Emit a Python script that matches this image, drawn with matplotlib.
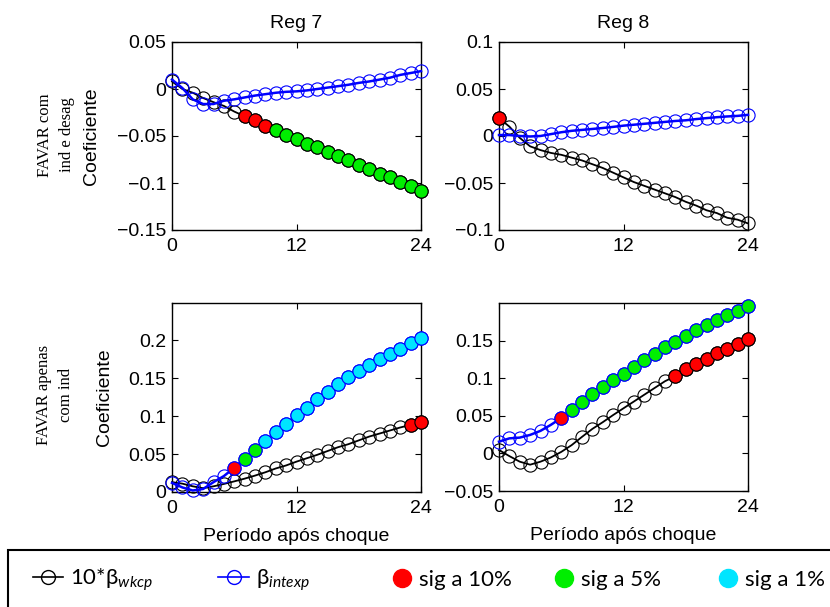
import numpy as np
import matplotlib.pyplot as plt
from matplotlib.lines import Line2D
from matplotlib.patches import Rectangle
from matplotlib.ticker import FuncFormatter

plt.rcParams['font.family'] = 'Liberation Sans'
plt.rcParams['mathtext.fontset'] = 'custom'
plt.rcParams['mathtext.rm'] = 'Lato'
plt.rcParams['mathtext.it'] = 'Lato:italic'

periods = np.arange(25)

# FAVAR com ind e desag, Reg 7
r7_top_wkcp = [0.008, 0.0, -0.004, -0.0096, -0.014, -0.018, -0.024, -0.029, -0.033,
               -0.039, -0.044, -0.0486, -0.053, -0.058, -0.062, -0.067, -0.071, -0.076,
               -0.081, -0.085, -0.090, -0.094, -0.099, -0.103, -0.108]
r7_top_wkcp_sig = [0, 0, 0, 0, 0, 0, 0, 10, 10, 10, 5, 5, 5, 5, 5, 5, 5, 5, 5, 5, 5, 5, 5, 5, 5]
r7_top_intexp = [0.010, 0.001, -0.011, -0.016, -0.016, -0.0125, -0.011, -0.009, -0.007,
                 -0.0055, -0.004, -0.003, -0.0025, -0.0015, 0.0, 0.0015, 0.003, 0.0045,
                 0.0065, 0.008, 0.010, 0.012, 0.015, 0.017, 0.019]
r7_top_intexp_sig = [0] * 25

# FAVAR com ind e desag, Reg 8
r8_top_wkcp = [0.019, 0.010, -0.002, -0.011, -0.015, -0.018, -0.020, -0.023, -0.026,
               -0.030, -0.034, -0.039, -0.044, -0.049, -0.053, -0.057, -0.061, -0.065,
               -0.070, -0.074, -0.079, -0.082, -0.087, -0.089, -0.093]
r8_top_wkcp_sig = [10] + [0] * 24
r8_top_intexp = [0.001, 0.001, 0.0, -0.0005, 0.0, 0.002, 0.004, 0.0055, 0.0065, 0.0075,
                 0.0085, 0.0097, 0.011, 0.012, 0.013, 0.014, 0.015, 0.016, 0.0167, 0.018,
                 0.019, 0.020, 0.0208, 0.0214, 0.0225]
r8_top_intexp_sig = [0] * 25

# FAVAR apenas com ind, Reg 7
r7_bot_wkcp = [0.013, 0.011, 0.0075, 0.005, 0.0075, 0.0106, 0.014, 0.0176, 0.0216, 0.026,
               0.031, 0.035, 0.040, 0.0445, 0.049, 0.054, 0.059, 0.063, 0.068, 0.073,
               0.077, 0.081, 0.085, 0.0885, 0.0925]
r7_bot_wkcp_sig = [0] * 23 + [10, 10]
r7_bot_intexp = [0.012, 0.006, 0.002, 0.004, 0.013, 0.021, 0.032, 0.044, 0.055, 0.067,
                 0.079, 0.090, 0.101, 0.111, 0.122, 0.132, 0.142, 0.151, 0.159, 0.167,
                 0.175, 0.182, 0.189, 0.196, 0.203]
r7_bot_intexp_sig = [0] * 6 + [10, 5, 5] + [1] * 16

# FAVAR apenas com ind, Reg 8
r8_bot_wkcp = [0.0045, -0.0036, -0.011, -0.015, -0.011, -0.0054, 0.002, 0.011, 0.022,
               0.0326, 0.0415, 0.051, 0.060, 0.069, 0.078, 0.087, 0.096, 0.1027, 0.1116,
               0.119, 0.126, 0.133, 0.139, 0.145, 0.152]
r8_bot_wkcp_sig = [0] * 17 + [10] * 8
r8_bot_intexp = [0.0156, 0.020, 0.021, 0.0246, 0.030, 0.038, 0.047, 0.058, 0.069, 0.079,
                 0.088, 0.097, 0.106, 0.115, 0.124, 0.132, 0.141, 0.148, 0.156, 0.164,
                 0.171, 0.178, 0.184, 0.190, 0.1955]
r8_bot_intexp_sig = [0] * 6 + [10] + [5] * 18

sig_colors = {10: '#ff0000', 5: '#00ee00', 1: '#00e5ff'}
sig_labels = {10: 'sig a 10%', 5: 'sig a 5%', 1: 'sig a 1%'}

panels = [
    (r7_top_wkcp, r7_top_wkcp_sig, r7_top_intexp, r7_top_intexp_sig,
     (-0.15, 0.05), [-0.15, -0.1, -0.05, 0, 0.05]),
    (r8_top_wkcp, r8_top_wkcp_sig, r8_top_intexp, r8_top_intexp_sig,
     (-0.1, 0.1), [-0.1, -0.05, 0, 0.05, 0.1]),
    (r7_bot_wkcp, r7_bot_wkcp_sig, r7_bot_intexp, r7_bot_intexp_sig,
     (0, 0.249), [0, 0.05, 0.1, 0.15, 0.2]),
    (r8_bot_wkcp, r8_bot_wkcp_sig, r8_bot_intexp, r8_bot_intexp_sig,
     (-0.05, 0.2), [-0.05, 0, 0.05, 0.1, 0.15]),
]

W, H = 830, 607
fig = plt.figure(figsize=(W / 100, H / 100), dpi=100)

def px_axes(l, t, r, b):
    return fig.add_axes([l / W, 1 - b / H, (r - l) / W, (b - t) / H])

axes = [px_axes(172, 42, 421, 230), px_axes(499, 42, 748, 230),
        px_axes(172, 303, 421, 492), px_axes(499, 303, 748, 491)]

fmt = FuncFormatter(lambda v, p: ('%g' % round(v, 4)).replace('-', '\u2212'))

def draw_series(ax, vals, sig, color, lw):
    ax.plot(periods, vals, color=color, lw=lw, marker='o', mfc='none', mec=color,
            ms=9.5, mew=0.8, clip_on=False, zorder=3)
    vals = np.asarray(vals)
    sig = np.asarray(sig)
    for level, c in sig_colors.items():
        m = sig == level
        if m.any():
            ax.plot(periods[m], vals[m], ls='none', marker='o', mfc=c, mec=color,
                    ms=9.5, mew=0.8, clip_on=False, zorder=4)

for i, (ax, (wk, wks, ie, ies, ylim, yt)) in enumerate(zip(axes, panels)):
    draw_series(ax, wk, wks, 'black', 1.3)
    draw_series(ax, ie, ies, '#0000ff', 1.8)
    ax.set_xlim(0, 24)
    ax.set_ylim(*ylim)
    ax.set_xticks([0, 12, 24])
    ax.set_yticks(yt)
    ax.yaxis.set_major_formatter(fmt)
    ax.tick_params(direction='in', top=True, right=True, labelsize=14, length=4,
                   width=0.8)
    ax.tick_params(axis='x', pad=6)
    ax.tick_params(axis='y', pad=4)
    for s in ax.spines.values():
        s.set_linewidth(1.0)
    if i < 2:
        ax.set_title('Reg %d' % (7 + i), fontsize=14, pad=10)
    else:
        ax.set_xlabel('Período após choque', fontsize=14)
        ax.xaxis.set_label_coords(0.5, -0.19)
    if i % 2 == 0:
        ax.set_ylabel('Coeficiente', fontsize=14)
        ax.yaxis.set_label_coords(-0.289 if i == 0 else -0.237, 0.5)

fig.text(56 / W, 1 - 135 / H, 'FAVAR com\nind e desag', family='Liberation Serif',
         fontsize=12, rotation=90, ha='center', va='center', linespacing=1.45)
fig.text(55 / W, 1 - 395 / H, 'FAVAR apenas\ncom ind', family='Liberation Serif',
         fontsize=12, rotation=90, ha='center', va='center', linespacing=1.45)

# legend box
fig.add_artist(Rectangle((8 / W, -0.02), 1.0, 1 - 550 / H + 0.02,
                         transform=fig.transFigure, fill=False, ec='black', lw=1.5))

leg_font = {'family': ['Lato', 'DejaVu Sans'], 'size': 16}
leg_y = 1 - 580 / H
entries = [
    (Line2D([], [], color='black', lw=1.2, marker='o', mfc='none', ms=10, mew=1.0),
     '10*β$_{wkcp}$', 33, 1.35, 0.32),
    (Line2D([], [], color='#0000ff', lw=1.2, marker='o', mfc='none', ms=10, mew=1.0),
     'β$_{intexp}$', 218, 1.4, 0.3),
]
for lev, x0 in [(10, 392), (5, 554), (1, 718)]:
    entries.append((Line2D([], [], ls='none', marker='o', mfc=sig_colors[lev],
                           mec=sig_colors[lev], ms=13),
                    sig_labels[lev], x0, 0.9, 0.3))
for h, lab, x0, hl, tp in entries:
    fig.legend([h], [lab], loc='center left', bbox_to_anchor=(x0 / W, leg_y),
               frameon=False, prop=leg_font, borderpad=0, borderaxespad=0,
               handlelength=hl, handletextpad=tp)

fig.savefig('out.png', dpi=100)
